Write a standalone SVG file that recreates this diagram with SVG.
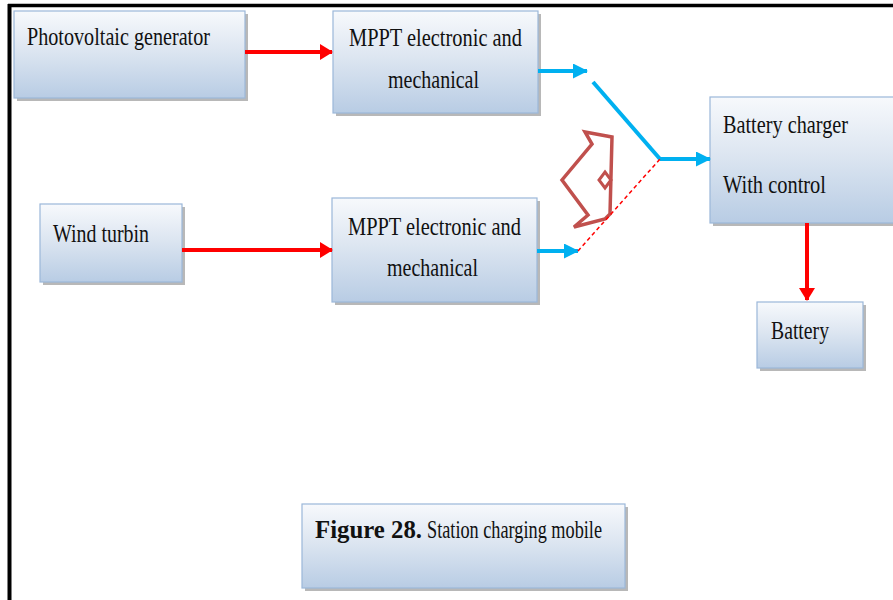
<svg xmlns="http://www.w3.org/2000/svg" width="893" height="600" viewBox="0 0 893 600">
<defs>
<linearGradient id="g" x1="0" y1="0" x2="0" y2="1">
<stop offset="0" stop-color="#f7f9fc"/>
<stop offset="0.45" stop-color="#dde6f1"/>
<stop offset="1" stop-color="#b8cce4"/>
</linearGradient>
<marker id="ar" markerUnits="userSpaceOnUse" markerWidth="13" markerHeight="16" refX="12" refY="8" orient="auto">
<path d="M0,0 L13,8 L0,16 z" fill="#ff0000"/>
</marker>
<marker id="ab" markerUnits="userSpaceOnUse" markerWidth="15" markerHeight="15" refX="14" refY="7.5" orient="auto">
<path d="M0,0 L15,7.5 L0,15 z" fill="#00b0f0"/>
</marker>
<style>
.box{fill:url(#g);stroke:#9bb7d9;stroke-width:1.2}
.sh{fill:#9a9a9a;opacity:0.7}
.t{font-family:"Liberation Serif","Times New Roman",serif;font-size:26px;fill:#111}
.red{stroke:#ff0000;stroke-width:4;fill:none}
.blue{stroke:#00b0f0;stroke-width:4;fill:none}
</style>
</defs>
<rect width="893" height="600" fill="#ffffff"/>
<g id="frame">
<line x1="8" y1="5.5" x2="893" y2="5.5" stroke="#000" stroke-width="3.5"/>
<line x1="9.5" y1="4" x2="9.5" y2="600" stroke="#000" stroke-width="4"/>
</g>
<g id="pv">
<rect class="sh" x="17" y="14" width="231" height="87"/>
<rect class="box" x="14" y="11" width="231" height="87"/>
<text class="t" x="27" y="45" textLength="183" lengthAdjust="spacingAndGlyphs">Photovoltaic generator</text>
</g>
<g id="mppt1">
<rect class="sh" x="336" y="14" width="205" height="102"/>
<rect class="box" x="333" y="11" width="205" height="102"/>
<text class="t" x="349" y="46" textLength="173" lengthAdjust="spacingAndGlyphs">MPPT electronic and</text>
<text class="t" x="388" y="88" textLength="91" lengthAdjust="spacingAndGlyphs">mechanical</text>
</g>
<g id="wind">
<rect class="sh" x="43" y="207" width="142" height="78"/>
<rect class="box" x="40" y="204" width="142" height="78"/>
<text class="t" x="53" y="242" textLength="96" lengthAdjust="spacingAndGlyphs">Wind turbin</text>
</g>
<g id="mppt2">
<rect class="sh" x="335" y="201" width="205" height="104"/>
<rect class="box" x="332" y="198" width="205" height="104"/>
<text class="t" x="348" y="235" textLength="173" lengthAdjust="spacingAndGlyphs">MPPT electronic and</text>
<text class="t" x="387" y="276" textLength="91" lengthAdjust="spacingAndGlyphs">mechanical</text>
</g>
<g id="charger">
<rect class="sh" x="713" y="100" width="190" height="126"/>
<rect class="box" x="710" y="97" width="190" height="126"/>
<text class="t" x="723" y="133" textLength="125" lengthAdjust="spacingAndGlyphs">Battery charger</text>
<text class="t" x="723" y="193" textLength="103" lengthAdjust="spacingAndGlyphs">With control</text>
</g>
<g id="battery">
<rect class="sh" x="760" y="305" width="106" height="66"/>
<rect class="box" x="757" y="302" width="106" height="66"/>
<text class="t" x="771" y="339" textLength="58" lengthAdjust="spacingAndGlyphs">Battery</text>
</g>
<g id="caption">
<rect class="sh" x="305" y="507" width="323" height="84"/>
<rect class="box" x="302" y="504" width="323" height="84"/>
<text class="t" x="315" y="538" font-weight="bold" textLength="107" lengthAdjust="spacingAndGlyphs">Figure 28.</text>
<text class="t" x="427" y="538" textLength="175" lengthAdjust="spacingAndGlyphs">Station charging mobile</text>
</g>
<g id="switch">
<polygon points="585,132 612,137 610,214 605,219 574,227 588,215 562,180 592,144" fill="none" stroke="#c0504d" stroke-width="3.5" stroke-linejoin="miter"/>
<polygon points="605,172 611,180 605,188 599,180" fill="none" stroke="#c0504d" stroke-width="3"/>
</g>
<g id="connectors">
<line class="red" x1="245" y1="52" x2="332" y2="52" marker-end="url(#ar)"/>
<line class="red" x1="182" y1="250" x2="332" y2="250" marker-end="url(#ar)"/>
<line class="blue" x1="538" y1="71" x2="587" y2="71" marker-end="url(#ab)"/>
<line class="blue" x1="537" y1="251" x2="578" y2="251" marker-end="url(#ab)"/>
<line class="blue" x1="593" y1="82" x2="660" y2="159"/>
<line class="blue" x1="660" y1="159" x2="710" y2="159" marker-end="url(#ab)"/>
<line x1="578" y1="251" x2="660" y2="159" stroke="#ff0000" stroke-width="1.5" stroke-dasharray="4,3"/>
<line class="red" x1="807" y1="223" x2="807" y2="300" marker-end="url(#ar)"/>
</g>
</svg>
